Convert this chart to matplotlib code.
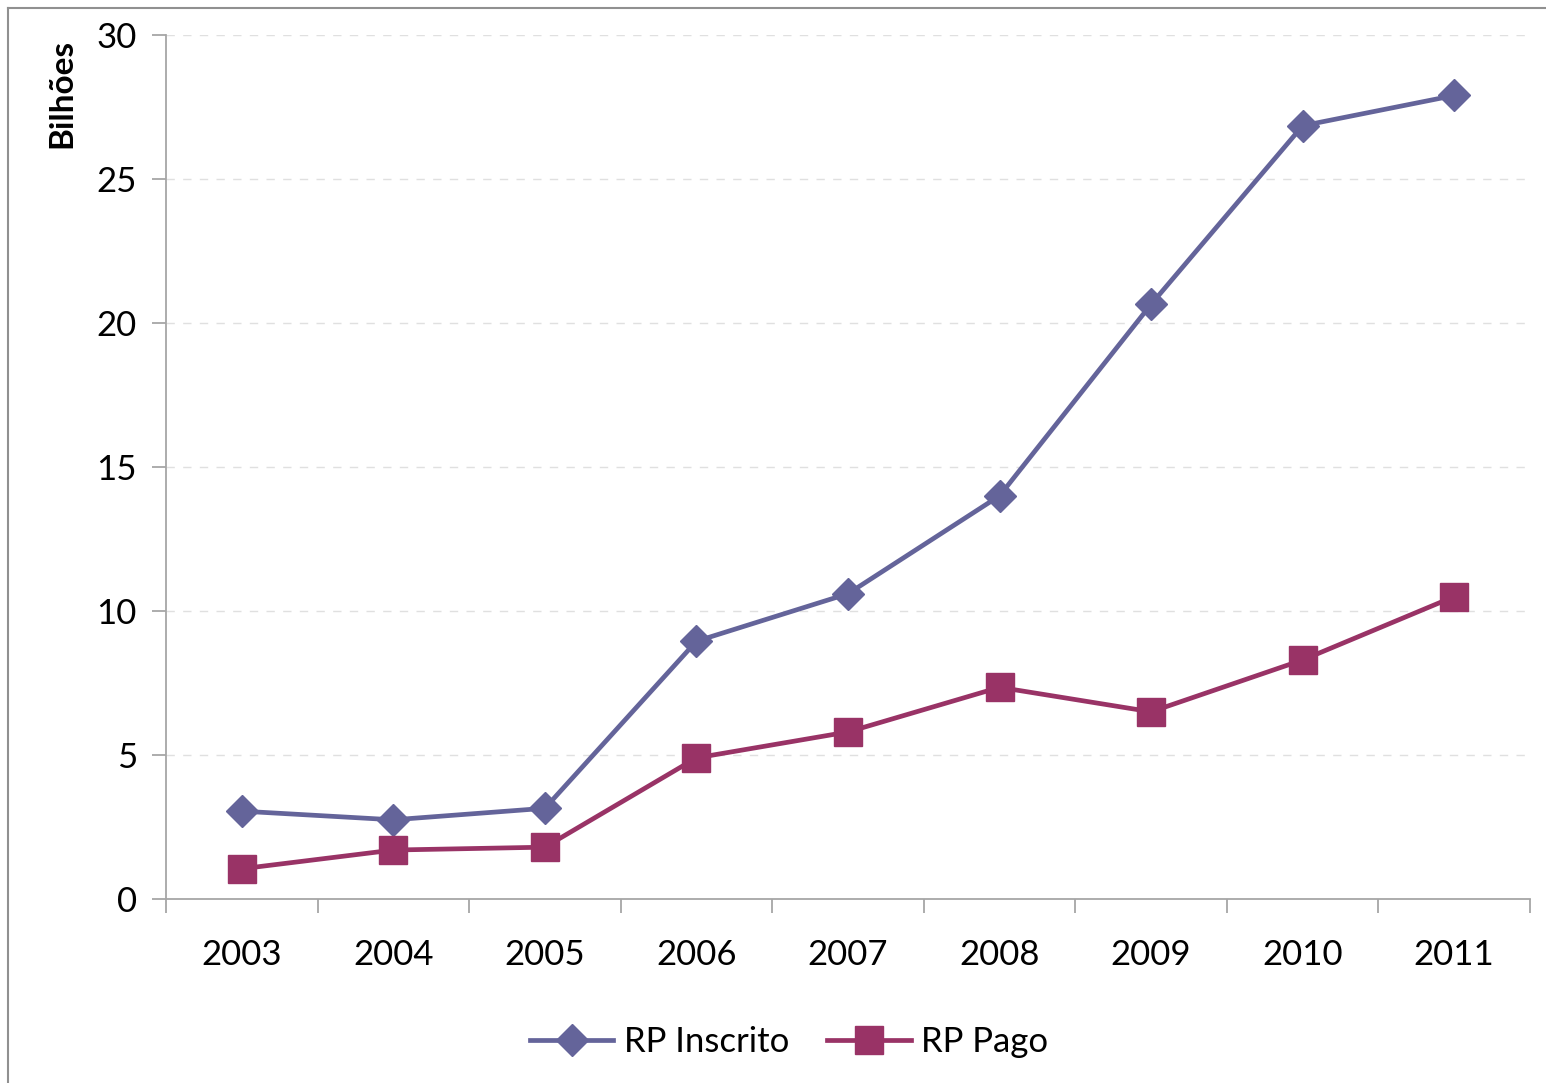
import matplotlib.pyplot as plt
from matplotlib.lines import Line2D

plt.rcParams['font.family'] = ['Lato', 'DejaVu Sans']

# data (billions)
anos = ['2003', '2004', '2005', '2006', '2007', '2008', '2009', '2010', '2011']
rp_inscrito = [3.05, 2.75, 3.15, 8.95, 10.6, 14.0, 20.65, 26.85, 27.9]
rp_pago = [1.05, 1.7, 1.8, 4.9, 5.8, 7.35, 6.5, 8.3, 10.5]
y_ticks = [0, 5, 10, 15, 20, 25, 30]

cor_inscrito = '#64649a'
cor_pago = '#993366'
cinza = '#a6a6a6'

fig = plt.figure(figsize=(15.46, 10.83), dpi=100)
ax = fig.add_axes([166/1546, 1-899/1083, (1530-166)/1546, (899-35)/1083])

x = list(range(len(anos)))
ax.plot(x, rp_inscrito, color=cor_inscrito, linewidth=3.4, marker='D',
        markersize=16, label='RP Inscrito')
ax.plot(x, rp_pago, color=cor_pago, linewidth=3.4, marker='s',
        markersize=20, label='RP Pago')

ax.set_xlim(-0.5, len(anos) - 0.5)
ax.set_ylim(0, 30)
ax.set_yticks(y_ticks)
ax.set_xticks([i - 0.5 for i in range(len(anos) + 1)])
ax.set_xticklabels([])
ax.set_xticks(x, minor=True)
ax.set_xticklabels(anos, minor=True)
ax.tick_params(axis='x', which='major', direction='out', length=10,
               color=cinza, width=1.3)
ax.tick_params(axis='x', which='minor', length=0, pad=29, labelsize=25)
ax.tick_params(axis='y', direction='out', length=10, color=cinza,
               width=1.3, labelsize=25, pad=11)

for y in y_ticks[1:]:
    ax.axhline(y, color='#e0e0e0', linewidth=1, linestyle=(0, (6, 6)),
               zorder=0)

for s in ['top', 'right']:
    ax.spines[s].set_visible(False)
for s in ['left', 'bottom']:
    ax.spines[s].set_color(cinza)
    ax.spines[s].set_linewidth(1.3)

fig.text(62/1546, 1-93/1083, 'Bilhões', rotation=90, fontsize=24,
         fontweight='bold', ha='center', va='center')

fig.legend(loc='center', bbox_to_anchor=(789/1546, 1-1042/1083),
           ncol=2, frameon=False, fontsize=25, handlelength=2.4,
           handletextpad=0.3, columnspacing=1.1)

# outer chart frame (left and top edges visible)
fig.add_artist(Line2D([8/1546, 8/1546], [0, 1-8/1083], color='#909090',
                      linewidth=1.5, transform=fig.transFigure))
fig.add_artist(Line2D([8/1546, 1], [1-8/1083, 1-8/1083], color='#909090',
                      linewidth=1.5, transform=fig.transFigure))

fig.savefig('out.png', dpi=100)
